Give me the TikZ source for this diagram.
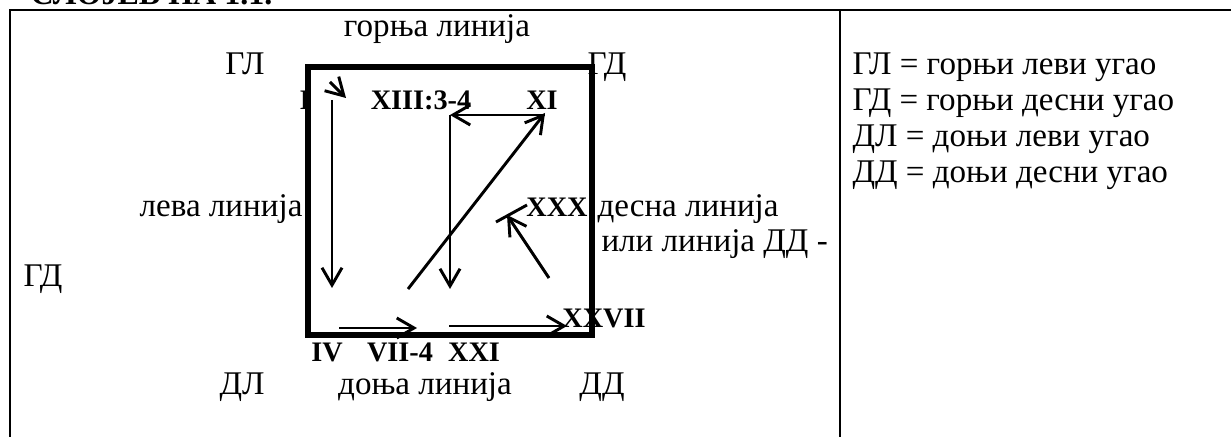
\documentclass[tikz,border=0pt]{standalone}
\usepackage{fontspec}
\setmainfont{Liberation Serif}
\usetikzlibrary{arrows.meta}

\begin{document}
\begin{tikzpicture}[x=0.375pt, y=-0.375pt,
  lbl/.style={font=\fontsize{12.4}{14}\selectfont, inner sep=0pt},
  num/.style={font=\fontsize{10.6}{12}\selectfont\bfseries, inner sep=0pt},
  rim/.style={line width=0.75pt},
  sq/.style={line width=1.9pt},
  arr/.style={line width=1.1pt, -{Straight Barb[length=6.5pt,width=7.5pt]}}]
  \useasboundingbox (0,0) rectangle (1231,437);

  % 1) Table frame and cut-off heading
  \node[num, font=\fontsize{12}{14}\selectfont\bfseries, anchor=base west] (head) at (30,5) {СЛОЈЕВ НА 1.1.};
  \draw[rim] (10,437) -- (10,10) -- (1231,10);
  \draw[rim] (840,10) -- (840,437);

  % 2) Square with its sides and corners
  \draw[sq] (308,67) rectangle (592,335);
  \node[lbl, anchor=base] (top) at (437,37) {горња линија};
  \node[lbl, anchor=base] (gl) at (245,75) {ГЛ};
  \node[lbl, anchor=base west] (gd) at (587,75) {ГД};
  \node[lbl, anchor=base east] (left) at (303,217) {лева линија};
  \node[lbl, anchor=base west] (right) at (597,217) {десна линија};
  \node[lbl, anchor=base west] (right2) at (601,252) {или линија ДД -};
  \node[lbl, anchor=base west] (gd2) at (23,287) {ГД};
  \node[lbl, anchor=base] (dl) at (242,395) {ДЛ};
  \node[lbl, anchor=base] (bottom) at (425,395) {доња линија};
  \node[lbl, anchor=base] (dd) at (602,395) {ДД};

  % 3) Numbered stations
  \node[num, anchor=base] (n1) at (305,110) {I};
  \node[num, anchor=base] (n13) at (421,110) {XIII:3-4};
  \node[num, anchor=base] (n11) at (542,110) {XI};
  \node[num, anchor=base] (n30) at (557,217) {XXX};
  \node[num, anchor=base] (n27) at (604,328) {XXVII};
  \node[num, anchor=base] (n4) at (327,362) {IV};
  \node[num, anchor=base] (n7) at (400,362) {VII-4};
  \node[num, anchor=base] (n21) at (474,362) {XXI};

  % 4) Route arrows
  \coordinate (a1) at (332,100);  \coordinate (a2) at (332,288);
  \coordinate (b1) at (330,82);   \coordinate (b2) at (346,98);
  \coordinate (c1) at (545,115);  \coordinate (c2) at (450,115);
  \coordinate (c3) at (450,289);
  \coordinate (d1) at (408,289);  \coordinate (d2) at (545,113);
  \coordinate (e1) at (549,278);  \coordinate (e2) at (507,215);
  \coordinate (f1) at (496,222);  \coordinate (f2) at (527,205);
  \coordinate (g1) at (339,328);  \coordinate (g2) at (417,328);
  \coordinate (h1) at (449,326);  \coordinate (h2) at (567,326);
  \draw[arr] (a1) -- (a2);
  \draw[arr] (b1) -- (b2);
  \draw[arr] (c1) -- (c2);
  \draw[arr] (c2) -- (c3);
  \draw[arr] (d1) -- (d2);
  \draw[arr] (e1) -- (e2);
  \draw[line width=1.1pt] (f1) -- (f2);
  \draw[arr] (g1) -- (g2);
  \draw[arr] (h1) -- (h2);

  % 5) Key
  \node[lbl, anchor=base west] (k1) at (852,75) {ГЛ = горњи леви угао};
  \node[lbl, anchor=base west] (k2) at (852,111) {ГД = горњи десни угао};
  \node[lbl, anchor=base west] (k3) at (852,147) {ДЛ = доњи леви угао};
  \node[lbl, anchor=base west] (k4) at (852,183) {ДД = доњи десни угао};
\end{tikzpicture}
\end{document}
